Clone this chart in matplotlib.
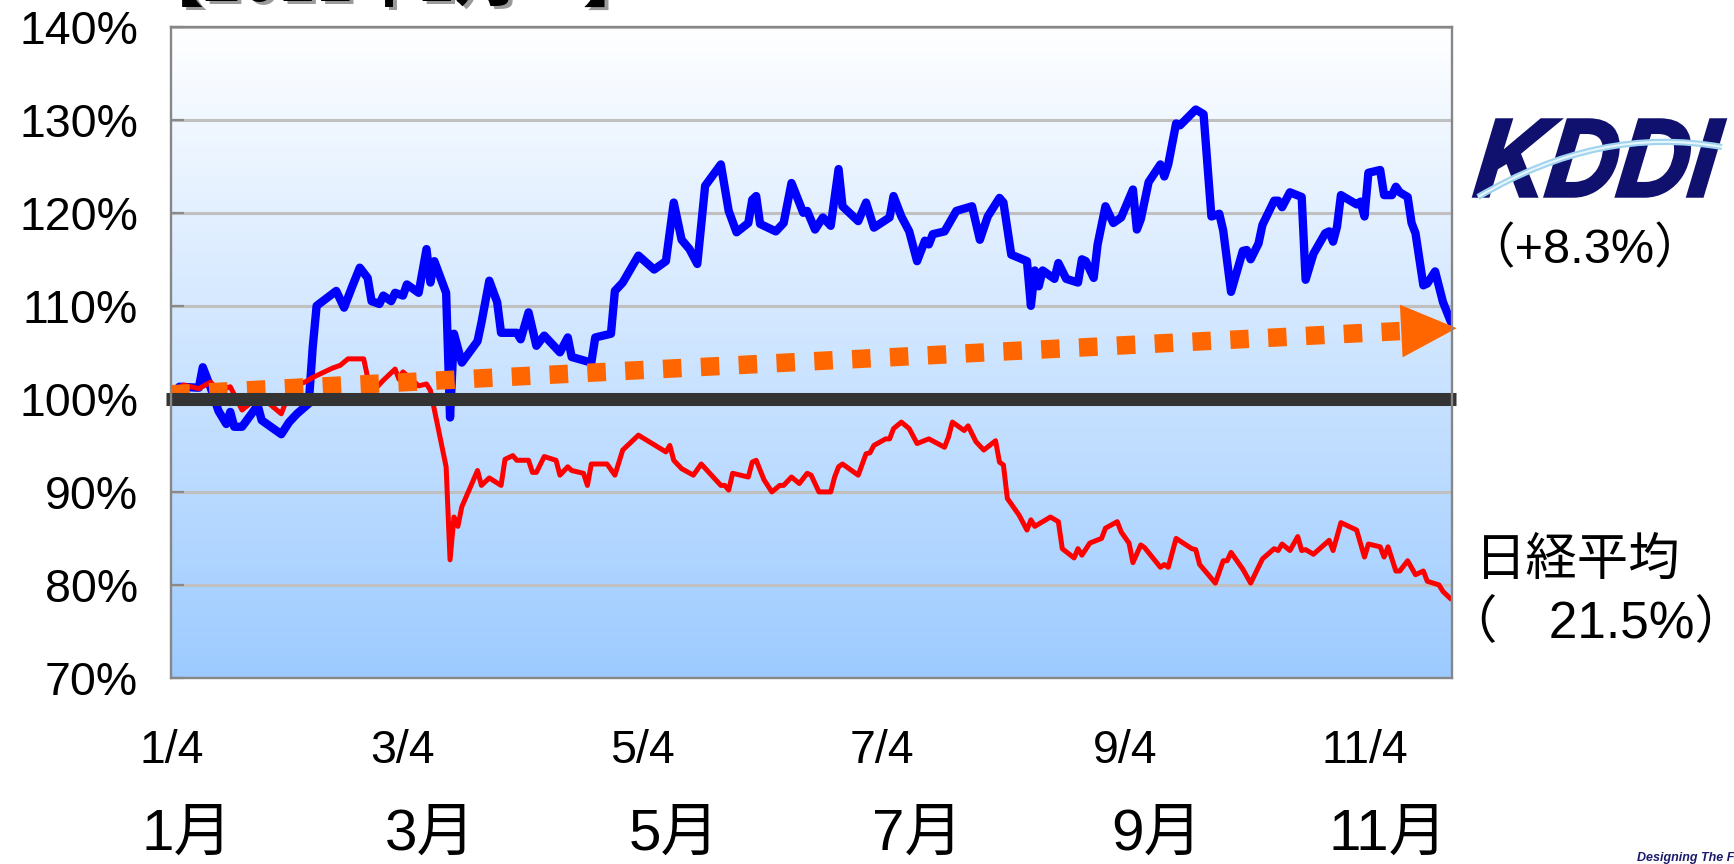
import numpy as np
import matplotlib
matplotlib.use("Agg")
import matplotlib.pyplot as plt
import matplotlib.transforms as mtransforms
from matplotlib.textpath import TextPath
from matplotlib.patches import PathPatch
from matplotlib.path import Path
from matplotlib.font_manager import FontProperties

plt.rcParams['font.family'] = ['Liberation Sans', 'Noto Sans CJK JP', 'DejaVu Sans']

# ---------------- data (days since 2011-01-04, index level in %) ----------------
kddi_days = [0, 2, 7, 8, 10, 12, 14, 15, 16, 18,
             22, 23, 28, 30, 32, 35, 36, 37, 42, 44,
             46, 48, 50, 51, 53, 54, 56, 57, 59, 60,
             63, 65, 66, 67, 70, 71, 72, 74, 78, 79,
             81, 83, 84, 88, 89, 91, 93, 95, 99, 101,
             102, 107, 108, 112, 113, 115, 119, 123, 126, 128,
             130, 132, 134, 136, 140, 142, 144, 147, 148, 149,
             150, 154, 156, 158, 161, 162, 164, 166, 168, 170,
             171, 175, 177, 179, 183, 184, 186, 188, 190, 192,
             193, 194, 197, 200, 204, 206, 208, 211, 212, 214,
             218, 219, 220, 221, 222, 225, 226, 228, 231, 232,
             233, 235, 236, 238, 240, 242, 245, 246, 247, 249,
             252, 253, 254, 256, 257, 261, 263, 265, 267, 268,
             270, 273, 274, 275, 277, 278, 281, 282, 283, 285,
             288, 289, 291, 294, 295, 296, 297, 298, 302, 303,
             304, 305, 308, 309, 311, 312, 313, 315, 316, 317,
             319, 320, 322, 324, 326]
kddi_vals = [100.0, 101.3, 101.2, 103.4, 101.2, 98.7, 97.3, 98.6, 97.0, 97.0,
             99.3, 97.7, 96.2, 97.5, 98.4, 99.5, 105.5, 110.0, 111.6, 109.8,
             112.0, 114.1, 113.0, 110.5, 110.2, 111.1, 110.5, 111.4, 111.1, 112.3,
             111.4, 116.1, 112.5, 114.8, 111.4, 98.0, 107.0, 103.9, 106.2, 108.2,
             112.7, 110.4, 107.1, 107.1, 106.4, 109.3, 105.7, 106.8, 105.0, 106.6,
             104.5, 103.9, 106.6, 107.0, 111.6, 112.5, 115.4, 113.9, 114.8, 121.1,
             117.1, 116.1, 114.5, 122.9, 125.2, 120.2, 117.9, 118.9, 121.4, 121.8,
             118.8, 118.0, 118.9, 123.2, 120.0, 120.2, 118.2, 119.5, 118.6, 124.7,
             120.7, 119.1, 121.1, 118.4, 119.5, 121.8, 119.6, 118.0, 114.8, 117.0,
             116.6, 117.7, 118.0, 120.2, 120.7, 117.1, 119.6, 121.6, 121.1, 115.5,
             114.8, 110.0, 113.8, 112.1, 113.8, 112.9, 114.6, 112.9, 112.5, 115.0,
             114.8, 113.0, 116.6, 120.7, 118.9, 119.5, 122.5, 118.2, 119.3, 123.3,
             125.2, 123.9, 125.2, 129.6, 129.4, 131.1, 130.6, 119.6, 119.9, 118.1,
             111.5, 115.9, 116.0, 115.0, 116.7, 118.7, 121.3, 121.3, 120.6, 122.2,
             121.7, 112.8, 115.6, 117.8, 118.0, 116.9, 118.5, 121.9, 120.9, 121.2,
             119.6, 124.3, 124.6, 121.9, 121.9, 122.8, 122.2, 121.7, 118.9, 117.8,
             112.2, 112.4, 113.7, 110.4, 108.3]

nikkei_days = [0, 3, 7, 10, 12, 15, 18, 20, 23, 26,
               28, 29, 31, 34, 36, 38, 41, 43, 45, 49,
               50, 52, 54, 57, 58, 59, 63, 65, 66, 70,
               71, 72, 73, 74, 78, 79, 81, 84, 85, 87,
               88, 91, 92, 93, 95, 98, 99, 101, 102, 105,
               106, 107, 111, 113, 115, 119, 126, 127, 128, 130,
               133, 135, 140, 141, 142, 143, 147, 148, 149, 151,
               153, 155, 156, 158, 160, 162, 163, 165, 168, 169,
               170, 171, 175, 177, 178, 179, 182, 183, 184, 186,
               188, 190, 193, 197, 198, 199, 202, 203, 205, 207,
               210, 211, 212, 213, 216, 218, 219, 220, 224, 226,
               227, 230, 231, 232, 234, 237, 238, 241, 242, 244,
               245, 247, 248, 252, 253, 254, 256, 260, 261, 262,
               266, 268, 269, 270, 273, 275, 278, 281, 282, 283,
               285, 287, 288, 289, 291, 295, 296, 298, 302, 304,
               305, 308, 309, 310, 312, 313, 315, 317, 319, 320,
               323, 324, 326]
nikkei_vals = [100.0, 101.5, 101.1, 101.8, 100.9, 101.3, 98.8, 99.5, 100.2, 99.1,
               98.4, 99.5, 101.4, 101.8, 102.3, 102.7, 103.3, 103.6, 104.3, 104.3,
               102.3, 101.1, 102.0, 103.2, 102.1, 102.9, 101.4, 101.6, 100.9, 92.7,
               82.7, 87.3, 86.3, 88.4, 92.3, 90.7, 91.5, 90.7, 93.5, 93.9,
               93.4, 93.4, 92.1, 92.1, 93.8, 93.4, 91.8, 92.7, 92.3, 92.0,
               90.7, 93.0, 93.0, 91.8, 94.5, 96.1, 94.3, 95.0, 93.4, 92.5,
               91.8, 93.0, 90.7, 90.7, 90.2, 92.0, 91.6, 93.2, 93.4, 91.3,
               90.0, 90.7, 90.7, 91.6, 90.9, 92.0, 91.8, 90.0, 90.0, 91.6,
               92.7, 93.0, 91.8, 94.1, 94.2, 95.0, 95.7, 95.7, 96.8, 97.5,
               96.8, 95.2, 95.7, 94.8, 95.9, 97.5, 96.6, 97.1, 95.4, 94.5,
               95.5, 93.2, 92.9, 89.3, 87.5, 85.9, 87.0, 86.3, 87.3, 86.8,
               83.9, 82.9, 83.9, 83.2, 84.5, 85.0, 86.1, 86.8, 85.7, 84.5,
               82.4, 84.3, 84.0, 81.9, 82.2, 81.9, 85.0, 83.9, 83.8, 82.2,
               80.2, 82.6, 82.6, 83.5, 81.7, 80.2, 82.8, 83.9, 83.7, 84.4,
               83.7, 85.2, 83.7, 83.8, 83.3, 84.8, 83.7, 86.7, 85.9, 83.0,
               84.4, 84.1, 83.0, 84.1, 81.5, 81.5, 82.6, 81.1, 81.5, 80.4,
               80.0, 79.3, 78.5]

date_tick_days = [0, 59, 120, 181, 243, 304]
date_tick_labels = ['1/4', '3/4', '5/4', '7/4', '9/4', '11/4']
month_label_days = [4, 66, 128, 190, 251, 310]
month_labels = ['1月', '3月', '5月', '7月', '9月', '11月']
y_ticks = [70, 80, 90, 100, 110, 120, 130, 140]
y_tick_labels = ['70%', '80%', '90%', '100%', '110%', '120%', '130%', '140%']

BASE = 100
TREND_START = 100.5
TREND_END = 107.6
TREND_HEAD_START_DAY = 313
TREND_TIP_DAY = 327.5

kddi_label = '（+8.3%）'
nikkei_name = '日経平均'
nikkei_label = '（\u300021.5%）'
title_text = '【2011年1月～】'

# ---------------- figure ----------------
W, H = 1734, 864
fig = plt.figure(figsize=(W / 100, H / 100), dpi=100)
fig.patch.set_facecolor('white')
ax = fig.add_axes([171.4 / W, 1 - 678 / H, (1452 - 171.4) / W, (678 - 26.7) / H])

# gradient background
top = np.array([1.0, 1.0, 1.0])
bot = np.array([0x9D, 0xCB, 0xFF]) / 255.0
t = np.linspace(0, 1, 256)[:, None, None]
grad = top * (1 - t) + bot * t
ax.imshow(grad, extent=[0, 1, 0, 1], transform=ax.transAxes, aspect='auto',
          zorder=0, interpolation='bilinear')

ax.plot(kddi_days, kddi_vals, color='#0000FF', lw=6.0, solid_joinstyle='round',
        solid_capstyle='round', zorder=3)
ax.plot(nikkei_days, nikkei_vals, color='#FF0000', lw=3.6, solid_joinstyle='round',
        solid_capstyle='round', zorder=3.5)

# orange trend arrow (dotted square line + triangular head)
orange = '#FF6600'
slope = (TREND_END - TREND_START) / TREND_TIP_DAY
ax.plot([0, TREND_HEAD_START_DAY], [TREND_START, TREND_START + slope * TREND_HEAD_START_DAY],
        color=orange, lw=13.3, linestyle=(0, (1.0, 1.05)), solid_capstyle='butt',
        dash_capstyle='butt', zorder=4, clip_on=False)
ax.annotate('', xy=(TREND_TIP_DAY, TREND_END),
            xytext=(TREND_HEAD_START_DAY - 3, TREND_START + slope * (TREND_HEAD_START_DAY - 3)),
            arrowprops=dict(width=0.01, headwidth=38, headlength=40, shrink=0,
                            facecolor=orange, edgecolor='none'),
            zorder=4.5, annotation_clip=False)

# thick black baseline
ax.hlines(BASE, -1.5, 327.2, color='#333333', lw=9.4, zorder=5, clip_on=False)

ax.set_xlim(0, 326.3)
ax.set_ylim(70, 140)

ax.set_yticks(y_ticks)
ax.set_yticklabels(y_tick_labels, fontsize=33.5, family='Liberation Sans')
ax.set_xticks(date_tick_days)
ax.set_xticklabels(date_tick_labels, fontsize=33.5, family='Liberation Sans')
ax.tick_params(axis='y', direction='in', length=9, width=1.6, color='#8A8A8A', pad=24)
ax.tick_params(axis='x', length=0, pad=37)
ax.set_axisbelow(True)
ax.grid(axis='y', color='#C0C0C0', lw=2.2, zorder=1)
ax.grid(axis='x', visible=False)
for s in ax.spines.values():
    s.set_color('#878787')
    s.set_linewidth(1.7)
    s.set_zorder(6)

# month labels
blend = mtransforms.blended_transform_factory(ax.transData, fig.transFigure)
for d, lab in zip(month_label_days, month_labels):
    ax.text(d, 1 - 835 / H, lab, transform=blend, ha='center', va='center',
            fontsize=42, family=['Liberation Sans', 'Noto Sans CJK JP'], clip_on=False)

# right side labels
cjk = ['Liberation Sans', 'Noto Sans CJK JP']
fig.text(1585 / W, 1 - 250 / H, kddi_label, ha='center', va='center', fontsize=35, family=cjk)
fig.text(1578 / W, 1 - 560 / H, nikkei_name, ha='center', va='center', fontsize=37,
         family=['Noto Sans CJK JP'])
fig.text(1596 / W, 1 - 625 / H, nikkei_label, ha='center', va='center', fontsize=37, family=cjk)

# KDDI logo as text path
fp = FontProperties(family='Liberation Sans', weight='bold', style='italic')
tp = TextPath((0, 0), 'KDDI', size=100, prop=fp)
tp = mtransforms.Affine2D().skew_deg(8, 0).transform_path(tp)
bb = tp.get_extents()
x0, x1, y0, y1 = 1474, 1725, 120, 196
sx = (x1 - x0) / bb.width
sy = (y1 - y0) / bb.height
tr = (mtransforms.Affine2D().translate(-bb.x0, -bb.y0).scale(sx / W, sy / H)
      .translate(x0 / W, (H - y1) / H) + fig.transFigure)
fig.add_artist(PathPatch(tp, transform=tr, facecolor='#10106E', edgecolor='#10106E',
                         lw=2.5, joinstyle='miter'))
sw = Path([(1478 / W, 1 - 197 / H), (1600 / W, 1 - 125 / H), (1722 / W, 1 - 147 / H)],
          [Path.MOVETO, Path.CURVE3, Path.CURVE3])
fig.add_artist(PathPatch(sw, transform=fig.transFigure, facecolor='none',
                         edgecolor='#9FD3EE', lw=4.5))
fig.add_artist(PathPatch(sw, transform=fig.transFigure, facecolor='none',
                         edgecolor='#E8F6FC', lw=1.5))

# clipped title at the top
fig.text(140 / W + 0.002, 1 - 4 / H, title_text, ha='left', va='baseline', fontsize=46,
         weight='bold', color='#9A9A9A', family=['Noto Sans CJK JP'])
fig.text(140 / W, 1 - 1 / H, title_text, ha='left', va='baseline', fontsize=46,
         weight='bold', color='black', family=['Noto Sans CJK JP'])

# footer fragment
fig.text(1637 / W, 1 - 861 / H, 'Designing The Future', ha='left', va='baseline',
         fontsize=9, weight='bold', style='italic', color='#1B1B6B', family='Liberation Sans')

fig.savefig('out.png', dpi=100)
